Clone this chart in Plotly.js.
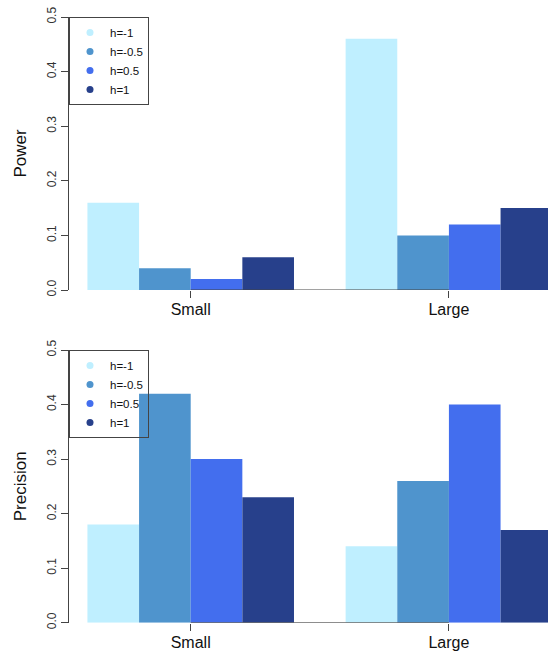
<!DOCTYPE html>
<html>
<head>
<meta charset="utf-8">
<script src="https://cdn.plot.ly/plotly-3.0.1.min.js"></script>
<style>html,body{margin:0;padding:0;background:#fff;}#chart{width:548px;height:652px;}</style>
</head>
<body>
<div id="chart"></div>
<script>
// ---- data ----
const categories = ["Small", "Large"];
const seriesNames = ["h=-1", "h=-0.5", "h=0.5", "h=1"];
const seriesColors = ["#BFEFFF", "#4F94CD", "#436EEE", "#27408B"];
const powerHm1  = [0.16, 0.46];
const powerHm05 = [0.04, 0.10];
const powerH05  = [0.02, 0.12];
const powerH1   = [0.06, 0.15];
const precHm1   = [0.18, 0.14];
const precHm05  = [0.42, 0.26];
const precH05   = [0.30, 0.40];
const precH1    = [0.23, 0.17];
const yTickVals = [0, 0.1, 0.2, 0.3, 0.4, 0.5];
const yTickText = ["0.0", "0.1", "0.2", "0.3", "0.4", "0.5"];

const powerSeries = [powerHm1, powerHm05, powerH05, powerH1];
const precSeries  = [precHm1, precHm05, precH05, precH1];

const FONT = "Liberation Sans, Arial, Helvetica, sans-serif";
const W = 548, H = 652;
const LEFT = 69;

const traces = [];
function addPanel(series, xa, ya, legendId) {
  series.forEach((vals, i) => {
    traces.push({
      type: "bar", x: categories, y: vals, name: seriesNames[i],
      xaxis: xa, yaxis: ya, showlegend: false,
      marker: {color: seriesColors[i], line: {width: 0}},
      hoverinfo: "skip"
    });
  });
  series.forEach((vals, i) => {
    traces.push({
      type: "scatter", mode: "markers", x: [null], y: [null], name: seriesNames[i],
      xaxis: xa, yaxis: ya, legend: legendId, showlegend: true,
      marker: {color: seriesColors[i], size: 7, symbol: "circle"},
      hoverinfo: "skip"
    });
  });
}
addPanel(powerSeries, "x", "y", "legend");
addPanel(precSeries, "x2", "y2", "legend2");

function py(px) { return (H - px) / H; }
const topDom = [py(290), py(17)];
const botDom = [py(622.7), py(350)];
const xr = [-(191 - 69.4) / 258, (548 - 191) / 258];

function xAxis(anchor) {
  return {
    domain: [0, 1], anchor: anchor, type: "category", range: xr,
    showgrid: false, zeroline: false, showline: false,
    ticks: "outside", ticklen: 7, tickwidth: 1, tickcolor: "#444",
    ticklabelstandoff: -2,
    tickfont: {family: FONT, size: 16, color: "#111"}, fixedrange: true
  };
}
function yAxis(anchor, dom, title) {
  return {
    domain: dom, anchor: anchor, range: [0, 0.5],
    tickmode: "array", tickvals: yTickVals, ticktext: yTickText,
    tickangle: -90, showgrid: false, zeroline: false,
    showline: true, linecolor: "#444", linewidth: 1,
    ticks: "outside", ticklen: 7, tickwidth: 1, tickcolor: "#444",
    tickfont: {family: FONT, size: 12, color: "#333"},
    title: {text: title, font: {family: FONT, size: 17, color: "#111"}, standoff: 14},
    fixedrange: true
  };
}
function legendBox(yTop) {
  return {
    x: 0, y: yTop, xanchor: "left", yanchor: "top", xref: "paper", yref: "paper",
    bgcolor: "rgba(255,255,255,0)", bordercolor: "#444", borderwidth: 1,
    font: {family: FONT, size: 11.5, color: "#111"}, itemwidth: 30
  };
}

const layout = {
  width: W, height: H,
  margin: {l: LEFT, r: 0, t: 0, b: 0},
  paper_bgcolor: "#fff", plot_bgcolor: "#fff",
  font: {family: FONT},
  barmode: "group", bargap: 0.2, bargroupgap: 0,
  xaxis: xAxis("y"), yaxis: yAxis("x", topDom, "Power"),
  xaxis2: xAxis("y2"), yaxis2: yAxis("x2", botDom, "Precision"),
  legend: legendBox(topDom[1]),
  legend2: legendBox(botDom[1]),
  shapes: [
    {type: "line", xref: "x", yref: "y", x0: categories[0], x1: categories[categories.length - 1], y0: 0, y1: 0, line: {color: "#444", width: 1}},
    {type: "line", xref: "x2", yref: "y2", x0: categories[0], x1: categories[categories.length - 1], y0: 0, y1: 0, line: {color: "#444", width: 1}}
  ],
  showlegend: true
};

Plotly.newPlot("chart", traces, layout, {staticPlot: true, displayModeBar: false});
</script>
</body>
</html>
